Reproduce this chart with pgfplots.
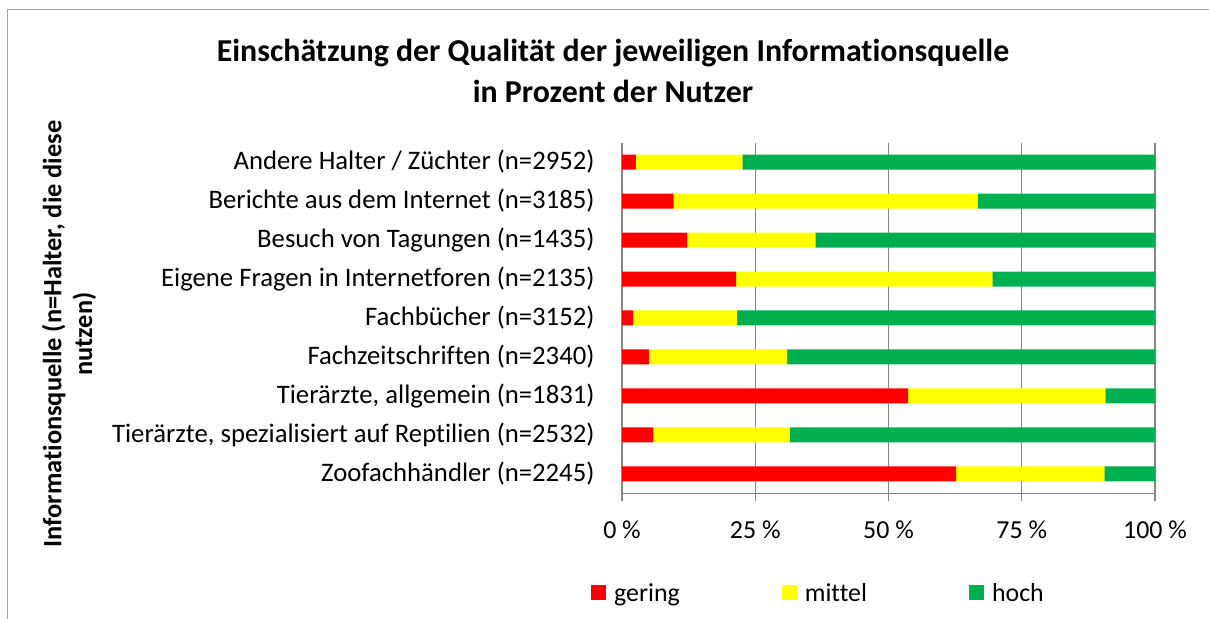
\documentclass[border=0pt]{standalone}
\usepackage{pgfplots}
\pgfplotsset{compat=1.18}
\usepackage{fontspec}
\setmainfont[Ligatures=NoCommon]{Carlito}

\definecolor{cRed}{HTML}{FF0000}
\definecolor{cYellow}{HTML}{FFFF00}
\definecolor{cGreen}{HTML}{00B050}
\definecolor{axisgray}{HTML}{868686}
\definecolor{framegray}{HTML}{A6A6A6}

% Anteile in Prozent: gering / mittel / hoch
\pgfplotstableread{
idx gering mittel hoch
0   2.6  20.0  77.4
1   9.7  57.0  33.3
2   12.2 24.1  63.7
3   21.4 48.1  30.5
4   2.1  19.5  78.4
5   5.1  25.9  69.0
6   53.7 37.0  9.3
7   5.9  25.6  68.5
8   62.7 27.8  9.5
}\qualitaet

\begin{document}
\begin{tikzpicture}
\begin{scope}[x=1bp,y=1bp]
\path[use as bounding box] (0,0) rectangle (1209,619);
% Rahmen des Diagrammbereichs
\draw[framegray, line width=1bp] (7.5,-5) -- (7.5,609) -- (1215,609);

% Titel
\node[font=\fontsize{32}{42}\selectfont\bfseries, align=center] at (613,548)
  {Einschätzung der Qualität der jeweiligen Informationsquelle\\in Prozent der Nutzer};

% Achsentitel
\node[font=\fontsize{26.5}{31}\selectfont\bfseries, align=center, rotate=90] at (69,285)
  {Informationsquelle (n=Halter, die diese\\nutzen)};
\end{scope}

\begin{axis}[
  at={(622bp,125.5bp)}, anchor=south west,
  scale only axis, width=533bp, height=351bp,
  xbar stacked, bar width=15bp,
  xmin=0, xmax=100,
  ymin=-0.5, ymax=8.5, y dir=reverse,
  axis x line*=bottom, axis y line*=left,
  axis line style={axisgray, line width=1.2bp, -},
  xtick={0,25,50,75,100},
  xticklabels={0 \%,25 \%,50 \%,75 \%,100 \%},
  xmajorgrids, major grid style={axisgray, line width=1.2bp},
  ytick={0,...,8},
  yticklabels={
    Andere Halter / Züchter (n=2952),
    Berichte aus dem Internet (n=3185),
    Besuch von Tagungen (n=1435),
    Eigene Fragen in Internetforen (n=2135),
    Fachbücher (n=3152),
    Fachzeitschriften (n=2340),
    {Tierärzte, allgemein (n=1831)},
    {Tierärzte, spezialisiert auf Reptilien (n=2532)},
    Zoofachhändler (n=2245)},
  minor ytick={-0.5,0.5,...,8.5},
  tick align=outside,
  major tick length=8bp, minor tick length=8bp,
  ytick style={draw=none},
  minor tick style={axisgray, line width=1.2bp, draw=axisgray},
  xtick style={axisgray, line width=1.2bp},
  xticklabel style={font=\fontsize{26}{30}\selectfont, text=black, yshift=-16bp},
  yticklabel style={font=\fontsize{26.8}{30}\selectfont, text=black, xshift=-16bp},
  /pgf/number format/assume math mode=true,
  legend columns=3,
  legend style={draw=none, fill=none, at={(axis description cs:0.3687,-0.2835)},
    anchor=center, font=\fontsize{26}{30}\selectfont,
    /tikz/every even column/.append style={column sep=100bp},
    /tikz/every odd column/.append style={column sep=6bp}},
]
\addplot[fill=cRed, draw=none,
  legend image code/.code={\fill[cRed] (0bp,-6.5bp) rectangle (15bp,8.5bp);}]
  table[x=gering, y=idx] {\qualitaet};
\addplot[fill=cYellow, draw=none,
  legend image code/.code={\fill[cYellow] (0bp,-6.5bp) rectangle (15bp,8.5bp);}]
  table[x=mittel, y=idx] {\qualitaet};
\addplot[fill=cGreen, draw=none,
  legend image code/.code={\fill[cGreen] (0bp,-6.5bp) rectangle (15bp,8.5bp);}]
  table[x=hoch, y=idx] {\qualitaet};
\legend{gering, mittel, hoch}
\end{axis}
\end{tikzpicture}
\end{document}
